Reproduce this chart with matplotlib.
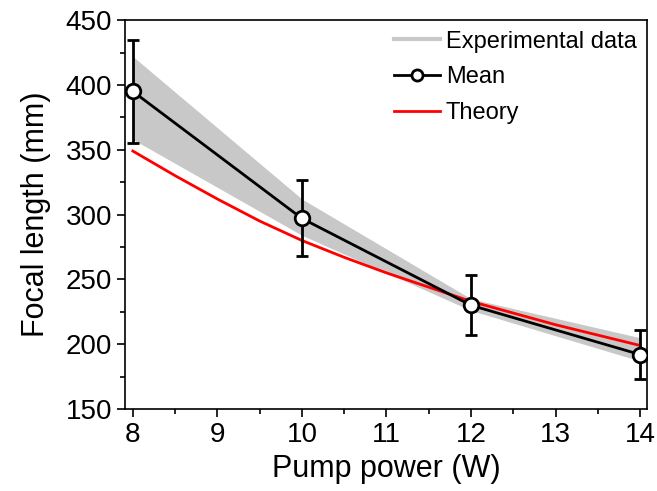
import numpy as np
import matplotlib.pyplot as plt
from matplotlib.lines import Line2D

plt.rcParams['font.family'] = ['Liberation Sans', 'DejaVu Sans']

# data
power = [8, 10, 12, 14]
mean_f = [395, 297, 230, 192]
err_lo = [355, 268, 207, 173]
err_hi = [435, 327, 253, 211]
band_lo = [358, 284, 226, 187]
band_hi = [422, 312, 235, 205]

theory_p = [8, 8.5, 9, 9.5, 10, 10.5, 11, 11.5, 12, 12.5, 13, 13.5, 14]
theory_f = [349, 330, 312, 295, 280, 267, 255, 244, 233, 224, 215, 207, 199]

fig = plt.figure(figsize=(6.57, 4.91), dpi=100)
ax = fig.add_axes([0.190, 0.167, 0.795, 0.792])

ax.fill_between(power, band_lo, band_hi, color='#c8c8c8', lw=0, zorder=1)
ax.plot(theory_p, theory_f, color='red', lw=2, zorder=2)

mean_f = np.array(mean_f)
yerr = [mean_f - np.array(err_lo), np.array(err_hi) - mean_f]
ax.errorbar(power, mean_f, yerr=yerr, color='black', lw=2, elinewidth=2,
            capsize=4, capthick=2, marker='o', ms=10.5, mfc='white',
            mec='black', mew=2, zorder=3)

ax.set_xlim(7.905, 14.083)
ax.set_ylim(150, 450)
ax.set_xticks(range(8, 15))
ax.set_xticks(np.arange(8.5, 14, 1), minor=True)
ax.set_yticks(range(150, 451, 50))
ax.set_yticks(range(175, 450, 50), minor=True)
ax.tick_params(which='major', direction='out', length=6, width=1.2,
               labelsize=20, pad=3)
ax.tick_params(which='minor', direction='out', length=3.5, width=1.2)
for s in ax.spines.values():
    s.set_linewidth(1.2)

ax.set_xlabel('Pump power (W)', fontsize=22, labelpad=5)
ax.set_ylabel('Focal length (mm)', fontsize=22, labelpad=11)

handles = [Line2D([0], [0], color='#c8c8c8', lw=3),
           Line2D([0], [0], color='black', lw=2, marker='o', ms=8,
                  mfc='white', mec='black', mew=2),
           Line2D([0], [0], color='red', lw=2)]
ax.legend(handles, ['Experimental data', 'Mean', 'Theory'], loc='upper right',
          frameon=False, fontsize=17, handlelength=1.95, handletextpad=0.25,
          labelspacing=0.58, borderaxespad=0.0, borderpad=0.45)

fig.savefig('out.png', dpi=100)
